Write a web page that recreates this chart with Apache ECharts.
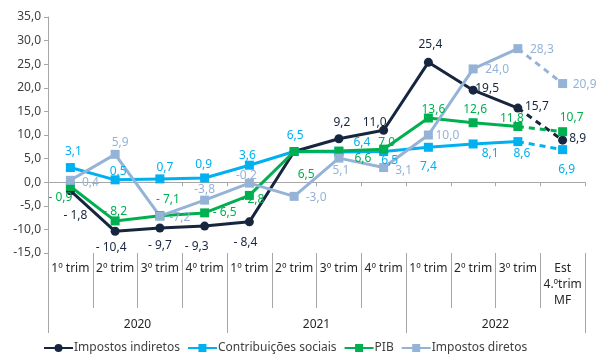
<!DOCTYPE html>
<html><head><meta charset="utf-8">
<script src="https://cdn.jsdelivr.net/npm/echarts@6/dist/echarts.min.js"></script>
<style>html,body{margin:0;padding:0;background:#fff}#c{width:599px;height:356px}</style>
</head><body><div id="c"></div>
<script>
// ---- data ----
const periods = ['2020 T1','2020 T2','2020 T3','2020 T4','2021 T1','2021 T2','2021 T3','2021 T4','2022 T1','2022 T2','2022 T3','2022 T4 Est'];
const quarterLabels = ['1º trim','2º trim','3º trim','4º trim','1º trim','2º trim','3º trim','4º trim','1º trim','2º trim','3º trim','Est\n4.ºtrim\nMF'];
const years = ['2020','2021','2022'];
const impostosIndiretos = [-1.8,-10.4,-9.7,-9.3,-8.4,6.5,9.2,11.0,25.4,19.5,15.7,8.9];
const contribuicoesSociais = [3.1,0.5,0.7,0.9,3.6,6.5,6.4,6.5,7.4,8.1,8.6,6.9];
const pib = [-0.9,-8.2,-7.1,-6.5,-2.8,6.5,6.6,7.0,13.6,12.6,11.8,10.7];
const impostosDiretos = [0.4,5.9,-7.2,-3.8,-0.2,-3.0,5.1,3.1,10.0,24.0,28.3,20.9];
const yMin = -15, yMax = 35, yInterval = 5;

// ---- label placement (style only) ----
const offIndiretos = [[5,25],[-4,16],[0,18],[-8,20],[-4,21],[0,0],[3,-16],[-9,-8],[2,-18],[14,-2],[19,-2],[15,-2]];
const offContrib = [[3,-16],[3,-8],[5,-11],[-1,-13],[-2,-10],[1,-16],[23,-9],[6,9],[0,19],[17,10],[4,12],[4,20]];
const offPib = [[-10,11],[0,-9],[8,-16],[20,0],[3,4],[12,23],[24,8],[3,-7],[5,-8],[2,-13],[-6,-8],[9,-14]];
const offDiretos = [[20,2],[5,-12],[20,1],[0,-11],[-3,-8],[22,1],[2,12],[20,3],[19,1],[24,1],[24,1],[22,1]];

const FONT = 'Noto Sans';
function fmtNum(v, spaced) {
  const s = Math.abs(v).toFixed(1).replace('.', ',');
  return v < 0 ? (spaced ? '- ' : '-') + s : s;
}

function makeSeries(name, values, color, symbol, size, offsets, spacedNeg, hidden) {
  const lbl = (i, show) => ({show: show, position: 'inside', offset: offsets[i]});
  const common = {
    name: name, type: 'line', xAxisIndex: 0, yAxisIndex: 0,
    symbol: symbol, symbolSize: size,
    itemStyle: {color: color},
    label: {color: color, fontSize: 12, fontFamily: FONT,
      formatter: p => fmtNum(p.value, spacedNeg)},
    emphasis: {disabled: true}, animation: false
  };
  const solid = Object.assign({}, common, {
    lineStyle: {color: color, width: 3},
    data: values.map((v, i) => i <= 10 ? {value: v, label: lbl(i, !hidden.includes(i))} : null)
  });
  const dashed = Object.assign({}, common, {
    lineStyle: {color: color, width: 3, type: [6, 5]},
    data: values.map((v, i) => i >= 10 ? {value: v, symbol: i === 10 ? 'none' : symbol, label: lbl(i, i === 11)} : null)
  });
  return [solid, dashed];
}

const series = [].concat(
  makeSeries('Impostos indiretos', impostosIndiretos, '#17263f', 'circle', 9, offIndiretos, true, [5]),
  makeSeries('Contribuições sociais', contribuicoesSociais, '#00b0f0', 'rect', 9, offContrib, false, []),
  makeSeries('PIB', pib, '#00b050', 'rect', 9, offPib, true, []),
  makeSeries('Impostos diretos', impostosDiretos, '#95b3d7', 'rect', 9, offDiretos, false, [])
);

const gray = '#a6a6a6';
const gridGeom = {left: 48, right: 14, top: 17, bottom: 103, containLabel: false};
const chart = echarts.init(document.getElementById('c'), null, {renderer: 'canvas'});
chart.setOption({
  animation: false,
  backgroundColor: '#ffffff',
  textStyle: {fontFamily: FONT},
  grid: [Object.assign({}, gridGeom), Object.assign({}, gridGeom)],
  legend: {
    data: ['Impostos indiretos', 'Contribuições sociais', 'PIB', 'Impostos diretos'],
    left: 43, top: 342, itemWidth: 29, itemHeight: 10, itemGap: 7, padding: 0,
    textStyle: {fontSize: 12, fontFamily: FONT, color: '#404040', padding: [0, 0, 0, -4]}
  },
  xAxis: [
    {type: 'category', gridIndex: 0, data: periods, position: 'bottom', boundaryGap: true,
      axisLine: {show: true, onZero: true, lineStyle: {color: gray, width: 1}},
      axisTick: {show: true, interval: 0, length: 4, lineStyle: {color: gray}},
      axisLabel: {show: false}, splitLine: {show: false}},
    {type: 'category', gridIndex: 0, data: quarterLabels, position: 'bottom', boundaryGap: true,
      axisLine: {show: false, onZero: false},
      axisTick: {show: true, interval: 0, length: 55, lineStyle: {color: gray}},
      axisLabel: {show: true, interval: 0, margin: 8, fontSize: 12, lineHeight: 16, fontFamily: FONT, color: '#262626'},
      splitLine: {show: false}},
    {type: 'category', gridIndex: 1, data: years, position: 'bottom', boundaryGap: true,
      axisLine: {show: false, onZero: false},
      axisTick: {show: true, interval: 0, length: 80, lineStyle: {color: gray}},
      axisLabel: {show: true, interval: 0, margin: 64, fontSize: 12, lineHeight: 16, fontFamily: FONT, color: '#262626'},
      splitLine: {show: false}}
  ],
  yAxis: [
    {type: 'value', gridIndex: 0, min: yMin, max: yMax, interval: yInterval,
      axisLine: {show: true, lineStyle: {color: gray}},
      axisTick: {show: true, length: 4, lineStyle: {color: gray}},
      axisLabel: {margin: 7, fontSize: 12, fontFamily: FONT, color: '#404040',
        formatter: v => v.toFixed(1).replace('.', ',')},
      splitLine: {show: false}},
    {type: 'value', gridIndex: 1, min: yMin, max: yMax, show: false, splitLine: {show: false}}
  ],
  series: series
});
</script></body></html>
